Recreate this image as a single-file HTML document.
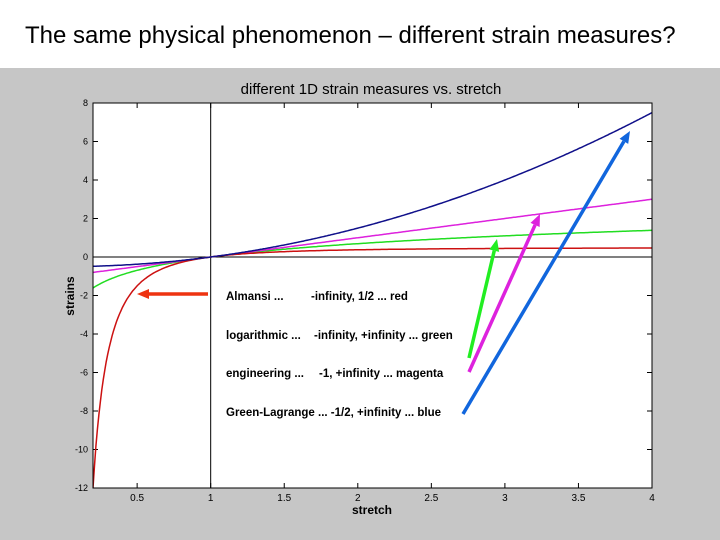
<!DOCTYPE html>
<html><head><meta charset="utf-8"><style>
body{margin:0;width:720px;height:540px;overflow:hidden;background:#fff;font-family:"Liberation Sans",sans-serif}
#title{position:absolute;left:0;top:0;width:720px;height:68px;background:#fff}
#title span{position:absolute;left:25px;top:22px;font-size:24px;color:#000;white-space:nowrap}
#bg{position:absolute;left:0;top:68px;width:720px;height:472px;background:#c6c6c6}
svg{position:absolute;left:0;top:0}
</style></head><body>
<div id="title"><span>The same physical phenomenon – different strain measures?</span></div>
<div id="bg"></div>
<svg id="chart" width="720" height="540"></svg>
<script>
const xTicks=[0.5,1,1.5,2,2.5,3,3.5,4];
const xTickLabels=["0.5","1","1.5","2","2.5","3","3.5","4"];
const yTicks=[8,6,4,2,0,-2,-4,-6,-8,-10,-12];
const yTickLabels=["8","6","4","2","0","-2","-4","-6","-8","-10","-12"];
const stretch=[];for(let i=0;i<=380;i++)stretch.push(0.2+i*0.01);
const almansi=stretch.map(l=>0.5*(1-1/(l*l)));
const logarithmic=stretch.map(l=>Math.log(l));
const engineering=stretch.map(l=>l-1);
const greenLagrange=stretch.map(l=>0.5*(l*l-1));
const X0=93,X1=652,Y0=103,Y1=488,xmin=0.2,xmax=4,ymin=-12,ymax=8;
const sx=v=>X0+(v-xmin)/(xmax-xmin)*(X1-X0);
const sy=v=>Y1-(v-ymin)/(ymax-ymin)*(Y1-Y0);
const svg=document.getElementById('chart');const NS='http://www.w3.org/2000/svg';
function mk(t,a,parent){const e=document.createElementNS(NS,t);for(const k in a)e.setAttribute(k,a[k]);(parent||svg).appendChild(e);return e;}
let r=mk('rect',{x:X0,y:Y0,width:X1-X0,height:Y1-Y0,fill:'#fff'});

const clip=mk('clipPath',{id:'cp'});mk('rect',{x:X0,y:Y0,width:X1-X0,height:Y1-Y0},clip);
xTicks.forEach((v,i)=>{const x=sx(v);
mk('line',{x1:x,y1:Y1,x2:x,y2:Y1-5,stroke:'#000'});mk('line',{x1:x,y1:Y0,x2:x,y2:Y0+5,stroke:'#000'});
const t=mk('text',{x:x,y:Y1+13,'font-size':10,'text-anchor':'middle',fill:'#000'});t.textContent=xTickLabels[i];
});
yTicks.forEach((v,i)=>{const y=sy(v);
mk('line',{x1:X0,y1:y,x2:X0+5,y2:y,stroke:'#000'});mk('line',{x1:X1,y1:y,x2:X1-5,y2:y,stroke:'#000'});
const t=mk('text',{x:X0-5,y:y+3,'font-size':9,'text-anchor':'end',fill:'#000'});t.textContent=yTickLabels[i];
});
let zl=mk('line',{x1:X0,y1:sy(0),x2:X1,y2:sy(0),stroke:'#000'});

let vl=mk('line',{x1:sx(1),y1:Y0,x2:sx(1),y2:Y1,stroke:'#000'});

function series(vals,col,name){const d=vals.map((v,i)=>(i?'L':'M')+sx(stretch[i]).toFixed(1)+','+sy(v).toFixed(1)).join('');
const p=mk('path',{d:d,fill:'none',stroke:col,'stroke-width':1.5,'clip-path':'url(#cp)'});
}
series(logarithmic,'#22dd22','logarithmic-curve');
series(engineering,'#dd22dd','engineering-curve');
series(almansi,'#cc1111','almansi-curve');
series(greenLagrange,'#10108a','green-lagrange-curve');
let fr=mk('rect',{x:X0,y:Y0,width:X1-X0,height:Y1-Y0,fill:'none',stroke:'#000'});

let ct=mk('text',{x:371,y:94,'font-size':15,'text-anchor':'middle',fill:'#000'});ct.textContent='different 1D strain measures vs. stretch';

let xt=mk('text',{x:372,y:514,'font-size':12,'font-weight':'bold','text-anchor':'middle',fill:'#000'});xt.textContent='stretch';

let yt=mk('text',{x:74,y:296,'font-size':12,'font-weight':'bold','text-anchor':'middle',fill:'#000',transform:'rotate(-90 74 296)'});yt.textContent='strains';

const notes=[['Almansi ...','-infinity, 1/2 ... red',311,300],['logarithmic ...','-infinity, +infinity ... green',314,339],['engineering ...','-1, +infinity ... magenta',319,377],['Green-Lagrange ... -1/2, +infinity ... blue','',0,416]];
notes.forEach(n=>{const a=mk('text',{x:226,y:n[3],'font-size':11.5,'font-weight':'bold',fill:'#000'});a.textContent=n[0];

if(n[1]){const b=mk('text',{x:n[2],y:n[3],'font-size':11.5,'font-weight':'bold',fill:'#000'});b.textContent=n[1];
}});
function arrow(x1,y1,x2,y2,col,name){const g=mk('g',{});
const ang=Math.atan2(y2-y1,x2-x1),L=12,W=5;const bx=x2-L*Math.cos(ang),by=y2-L*Math.sin(ang);
mk('line',{x1:x1,y1:y1,x2:bx,y2:by,stroke:col,'stroke-width':3.5},g);
const px=-Math.sin(ang)*W,py=Math.cos(ang)*W;
mk('polygon',{points:`${x2},${y2} ${bx+px},${by+py} ${bx-px},${by-py}`,fill:col},g);}
arrow(208,294,137,294,'#ee3311','red-arrow');
arrow(469,358,497,239,'#22ee22','green-arrow');
arrow(469,372,540,214,'#dd22dd','magenta-arrow');
arrow(463,414,630,131,'#1166dd','blue-arrow');
</script>
</body></html>
